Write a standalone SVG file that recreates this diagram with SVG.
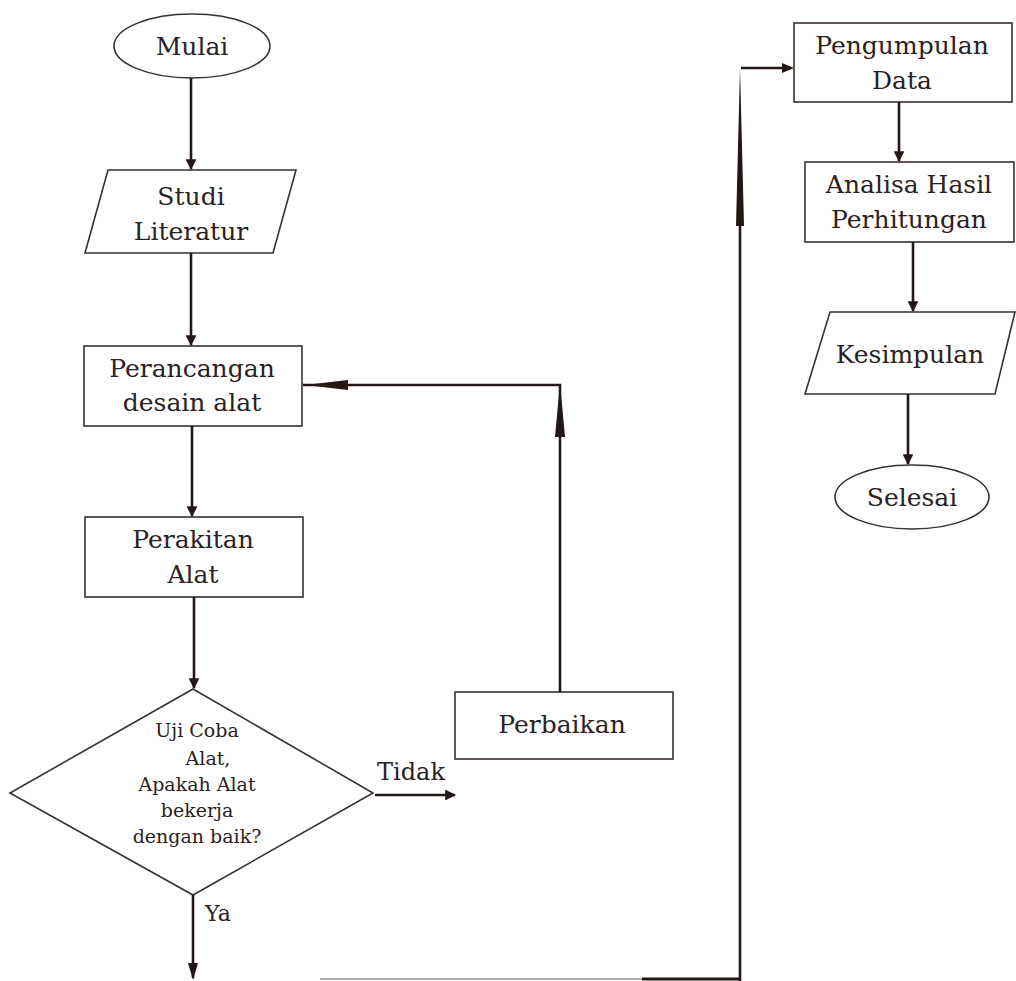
<svg xmlns="http://www.w3.org/2000/svg" width="1016" height="981" viewBox="0 0 1016 981">
<defs>
<style>
.shape{fill:#fff;stroke:#3a3030;stroke-width:1.6}
.t{font-family:'DejaVu Serif','Liberation Serif',serif;fill:#2a2222;text-anchor:middle}
.big{font-size:25px}
.small{font-size:19px}
.conn{stroke:#231815;stroke-width:2.6;fill:none}
.head{fill:#231815;stroke:none}
</style>
<marker id="ah" viewBox="0 0 10 10" refX="9" refY="5" markerWidth="4.6" markerHeight="4.2" orient="auto" markerUnits="strokeWidth">
<path d="M0,0 L10,5 L0,10 Z" fill="#231815"/>
</marker>
</defs>
<rect width="1016" height="981" fill="#fff"/>

<g id="mulai">
<ellipse class="shape" cx="192" cy="46" rx="78" ry="32"/>
<text class="t big" x="192" y="55">Mulai</text>
</g>

<g id="studi-literatur">
<polygon class="shape" points="108,170 296,170 273,253 85,253"/>
<text class="t big" x="191" y="205">Studi</text>
<text class="t big" x="191" y="240">Literatur</text>
</g>

<g id="perancangan">
<rect class="shape" x="84" y="346" width="218" height="80"/>
<text class="t big" x="192" y="377">Perancangan</text>
<text class="t big" x="192" y="411">desain alat</text>
</g>

<g id="perakitan">
<rect class="shape" x="85" y="517" width="218" height="80"/>
<text class="t big" x="193" y="548">Perakitan</text>
<text class="t big" x="193" y="583">Alat</text>
</g>

<g id="uji-coba">
<polygon class="shape" points="193,689 373,793 193,895 10,793"/>
<text class="t small" x="197" y="737">Uji Coba</text>
<text class="t small" x="208" y="765">Alat,</text>
<text class="t small" x="197" y="791">Apakah Alat</text>
<text class="t small" x="197" y="817">bekerja</text>
<text class="t small" x="197" y="843">dengan baik?</text>
</g>

<g id="perbaikan">
<rect class="shape" x="455" y="692" width="218" height="67"/>
<text class="t big" x="562" y="733">Perbaikan</text>
</g>

<g id="pengumpulan">
<rect class="shape" x="794" y="23" width="218" height="79"/>
<text class="t big" x="902" y="54">Pengumpulan</text>
<text class="t big" x="902" y="89">Data</text>
</g>

<g id="analisa">
<rect class="shape" x="805" y="162" width="209" height="80"/>
<text class="t big" x="909" y="193">Analisa Hasil</text>
<text class="t big" x="909" y="228">Perhitungan</text>
</g>

<g id="kesimpulan">
<polygon class="shape" points="830,312 1015,312 995,394 805,394"/>
<text class="t big" x="910" y="363">Kesimpulan</text>
</g>

<g id="selesai">
<ellipse class="shape" cx="912" cy="497" rx="77" ry="32"/>
<text class="t big" x="912" y="506">Selesai</text>
</g>

<g id="connectors">
<line class="conn" x1="191" y1="78" x2="191" y2="169" marker-end="url(#ah)"/>
<line class="conn" x1="191" y1="253" x2="191" y2="345" marker-end="url(#ah)"/>
<line class="conn" x1="192" y1="426" x2="192" y2="516" marker-end="url(#ah)"/>
<line class="conn" x1="194" y1="597" x2="194" y2="688" marker-end="url(#ah)"/>
<line class="conn" x1="375" y1="795" x2="455" y2="795" marker-end="url(#ah)"/>
<text class="t" x="411" y="780" style="font-size:24px">Tidak</text>
<polyline class="conn" points="560,692 560,385 303,385"/>
<path class="head" d="M560,383 L565,437 L555,437 Z"/>
<path class="head" d="M305,385 L348,380 L348,390 Z"/>
<line class="conn" x1="193" y1="895" x2="193" y2="978"/>
<path class="head" d="M193,980 L188,963 L198,963 Z"/>
<text class="t" x="218" y="921" style="font-size:22px">Ya</text>
<line x1="320" y1="979" x2="642" y2="979" stroke="#b0a8a8" stroke-width="2"/>
<line x1="642" y1="979" x2="740" y2="979" stroke="#231815" stroke-width="3"/>
<line class="conn" x1="740" y1="981" x2="740" y2="225"/>
<path class="head" d="M740,68 L744,226 L736,226 Z"/>
<line class="conn" x1="741" y1="68" x2="788" y2="68"/>
<path class="head" d="M794,68 L782,63 L782,73 Z"/>
<line class="conn" x1="899" y1="102" x2="899" y2="161" marker-end="url(#ah)"/>
<line class="conn" x1="913" y1="242" x2="913" y2="311" marker-end="url(#ah)"/>
<line class="conn" x1="908" y1="394" x2="908" y2="464" marker-end="url(#ah)"/>
</g>
</svg>
